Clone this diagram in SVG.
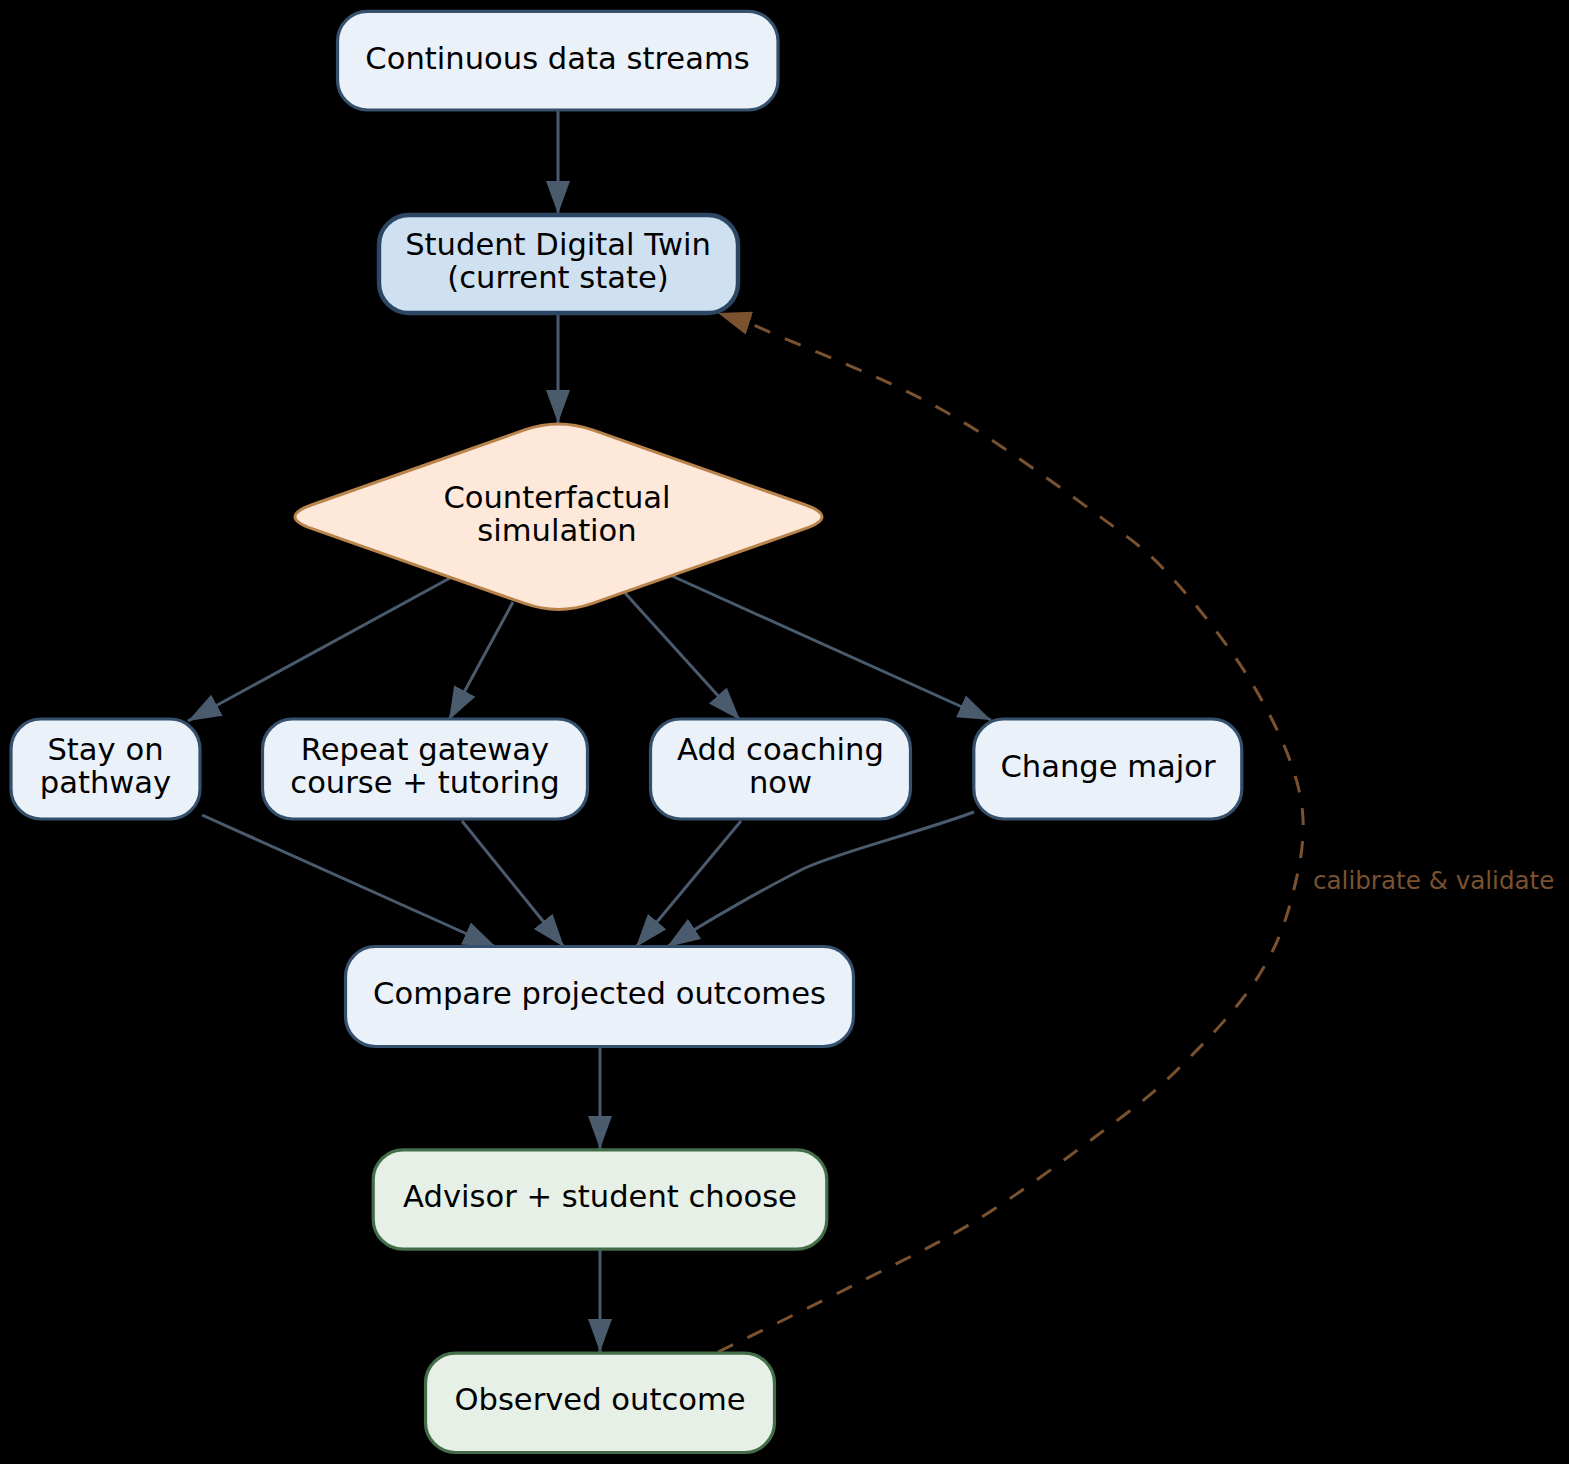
<svg xmlns="http://www.w3.org/2000/svg" width="1569" height="1464" viewBox="0 0 1569 1464">
<style>
.lbl{font-family:"DejaVu Sans","Liberation Sans",sans-serif;font-size:30.6px;fill:#000;text-anchor:middle}
.blue{fill:#eaf1f9;stroke:#34506c;stroke-width:3.2}
.twin{fill:#cfe1f0;stroke:#2c4764;stroke-width:4.4}
.green{fill:#e6f0e6;stroke:#436e49;stroke-width:3.2}
.dia{fill:#fde8da;stroke:#b8844b;stroke-width:3}
.edge{fill:none;stroke:#4a5b6d;stroke-width:3;marker-end:url(#ah)}
.fb{fill:none;stroke:#7b5230;stroke-width:3;stroke-dasharray:17,16;marker-end:url(#ahb)}
.elbl{font-family:"DejaVu Sans","Liberation Sans",sans-serif;font-size:24.6px;fill:#7b5230}
</style>
<defs>
<marker id="ah" markerUnits="userSpaceOnUse" viewBox="0 0 33 24" markerWidth="33" markerHeight="24" refX="33" refY="12" orient="auto">
<path d="M0,0 L33,12 L0,24 z" fill="#4a5b6d"/>
</marker>
<marker id="ahb" markerUnits="userSpaceOnUse" viewBox="0 0 33 24" markerWidth="33" markerHeight="24" refX="33" refY="12" orient="auto">
<path d="M0,0 L33,12 L0,24 z" fill="#7b5230"/>
</marker>
</defs>
<rect x="0" y="0" width="1569" height="1464" fill="#000"/>
<g id="edges">
<path class="edge" d="M558,111 L558,214"/>
<path class="edge" d="M558,315 L558,423"/>
<path class="edge" d="M450,578 L188,721"/>
<path class="edge" d="M513,602 L449,720"/>
<path class="edge" d="M625,593 L740,720"/>
<path class="edge" d="M672,576 L991,720"/>
<path class="edge" d="M202,815 L496,947"/>
<path class="edge" d="M462,821 L564,947"/>
<path class="edge" d="M741,821 L636,947"/>
<path class="edge" d="M974,812 C920,832 840,852 805,868 C765,888 705,922 667,947"/>
<path class="edge" d="M600,1047 L600,1149"/>
<path class="edge" d="M600,1250 L600,1352"/>
<path class="fb" d="M718,1352 C764.7,1329 814.8,1305 858,1283 C901.2,1261 937.5,1244.3 977,1220 C1016.5,1195.7 1062.2,1161.5 1095,1137 C1127.8,1112.5 1147.5,1098.7 1174,1073 C1200.5,1047.3 1234.3,1012.3 1254,983 C1273.7,953.7 1284.2,927.5 1292,897 C1299.8,866.5 1307,834.5 1301,800 C1295,765.5 1277.2,726.7 1256,690 C1234.8,653.3 1200.8,609.5 1174,580 C1147.2,550.5 1134.5,541.8 1095,513 C1055.5,484.2 994.7,438.7 937,407 C879.3,375.3 811.7,351 749,323 L718,313"/>
<text class="elbl" x="1313" y="889">calibrate &amp; validate</text>
</g>
<g id="streams">
<rect class="blue" x="337.5" y="11.3" width="440.5" height="98.7" rx="30" ry="30"/>
<text class="lbl" x="557.5" y="69">Continuous data streams</text>
</g>
<g id="twin">
<rect class="twin" x="379" y="215" width="359" height="98" rx="30" ry="30"/>
<text class="lbl" x="558" y="255">Student Digital Twin</text>
<text class="lbl" x="558" y="288">(current state)</text>
</g>
<g id="sim">
<path class="dia" d="M592.45,429.95 L805.05,504.75 Q839,516.7 805.05,528.65 L592.45,603.45 Q558.5,615.4 524.55,603.45 L311.95,528.65 Q278,516.7 311.95,504.75 L524.55,429.95 Q558.5,418 592.45,429.95 Z"/>
<text class="lbl" x="557" y="508">Counterfactual</text>
<text class="lbl" x="557" y="541">simulation</text>
</g>
<g id="stay">
<rect class="blue" x="11" y="719" width="189" height="100" rx="30" ry="30"/>
<text class="lbl" x="105.5" y="760">Stay on</text>
<text class="lbl" x="105.5" y="793">pathway</text>
</g>
<g id="repeat">
<rect class="blue" x="262.5" y="719" width="325" height="100" rx="30" ry="30"/>
<text class="lbl" x="425" y="760">Repeat gateway</text>
<text class="lbl" x="425" y="793">course + tutoring</text>
</g>
<g id="coach">
<rect class="blue" x="650.5" y="719" width="260" height="100" rx="30" ry="30"/>
<text class="lbl" x="780.5" y="760">Add coaching</text>
<text class="lbl" x="780.5" y="793">now</text>
</g>
<g id="major">
<rect class="blue" x="973.8" y="719" width="268" height="100" rx="30" ry="30"/>
<text class="lbl" x="1108" y="777">Change major</text>
</g>
<g id="compare">
<rect class="blue" x="345.5" y="946.5" width="508" height="100" rx="30" ry="30"/>
<text class="lbl" x="599.5" y="1004">Compare projected outcomes</text>
</g>
<g id="choose">
<rect class="green" x="373.2" y="1149.8" width="453.6" height="99.4" rx="30" ry="30"/>
<text class="lbl" x="600" y="1207">Advisor + student choose</text>
</g>
<g id="observed">
<rect class="green" x="425.5" y="1353.2" width="349" height="99.3" rx="30" ry="30"/>
<text class="lbl" x="600" y="1410">Observed outcome</text>
</g>
</svg>
